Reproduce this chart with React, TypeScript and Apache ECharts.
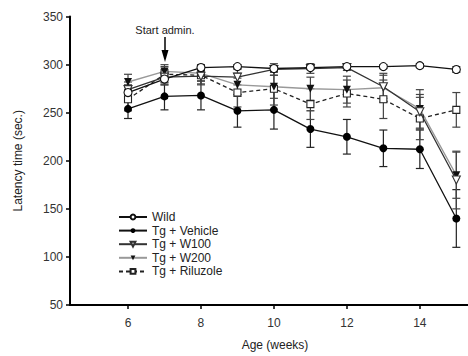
import React, { useEffect, useRef } from "react";
import * as echarts from "echarts";

const weeks = [6, 7, 8, 9, 10, 11, 12, 13, 14, 15];
const wild = [271, 285, 297, 298, 296, 297, 298, 298, 299, 295];
const wildErr = [8, 6, 3, 2, 3, 2, 2, 2, 2, 3];
const vehicle = [254, 267, 268, 252, 253, 233, 225, 213, 212, 140];
const vehicleErr = [10, 14, 15, 17, 20, 19, 18, 19, 20, 30];
const w100 = [274, 287, 288, 287, 295, 296, 297, 277, 251, 180];
const w100Err = [8, 8, 8, 8, 6, 5, 3, 12, 18, 30];
const w200 = [282, 293, 291, 279, 277, 275, 274, 276, 254, 185];
const w200Err = [8, 7, 8, 12, 12, 12, 14, 15, 20, 24];
const riluzole = [264, 290, 289, 271, 275, 259, 270, 264, 244, 253];
const riluzoleErr = [12, 8, 10, 15, 17, 16, 14, 20, 22, 18];

const xTicks = [6, 8, 10, 12, 14];
const seriesNames = ["Wild", "Tg + Vehicle", "Tg + W100", "Tg + W200", "Tg + Riluzole"];

function pairs(vals: number[]) {
  return weeks.map((w, i) => [w, vals[i]]);
}
function errData(vals: number[], errs: number[]) {
  return weeks.map((w, i) => [w, vals[i] - errs[i], vals[i] + errs[i]]);
}

function errSeries(vals: number[], errs: number[], color: string) {
  return {
    type: "custom",
    silent: true,
    z: 1,
    data: errData(vals, errs),
    renderItem: (params: any, api: any) => {
      const x = api.value(0);
      const lo = api.coord([x, api.value(1)]);
      const hi = api.coord([x, api.value(2)]);
      const w = 4;
      const st = { stroke: color, lineWidth: 1.2 };
      return {
        type: "group",
        children: [
          { type: "line", shape: { x1: lo[0], y1: lo[1], x2: hi[0], y2: hi[1] }, style: st },
          { type: "line", shape: { x1: lo[0] - w, y1: lo[1], x2: lo[0] + w, y2: lo[1] }, style: st },
          { type: "line", shape: { x1: hi[0] - w, y1: hi[1], x2: hi[0] + w, y2: hi[1] }, style: st },
        ],
      };
    },
  };
}

export default function App() {
  const ref = useRef<HTMLDivElement>(null);
  useEffect(() => {
    if (!ref.current) return;
    const chart = echarts.init(ref.current, null, { renderer: "svg" });
    const font = "Arial, 'Liberation Sans', sans-serif";
    chart.setOption({
      animation: false,
      textStyle: { fontFamily: font },
      grid: { left: 70, right: 0, top: 16.6, bottom: 49 },
      xAxis: {
        type: "value",
        min: 4.41,
        max: 15.32,
        name: "Age (weeks)",
        nameLocation: "middle",
        nameGap: 34,
        nameTextStyle: { fontSize: 12, color: "#222", padding: [0, 0, 0, 12] },
        axisLine: { show: true, onZero: false, lineStyle: { color: "#000", width: 2 } },
        axisTick: { show: true, customValues: xTicks, length: 4, lineStyle: { color: "#000", width: 1.5 } },
        axisLabel: { customValues: xTicks, fontSize: 12, color: "#333", margin: 12 },
        splitLine: { show: false },
      },
      yAxis: {
        type: "value",
        min: 50,
        max: 350,
        interval: 50,
        name: "Latency time (sec.)",
        nameLocation: "middle",
        nameGap: 46,
        nameTextStyle: { fontSize: 12, color: "#222" },
        axisLine: { show: true, lineStyle: { color: "#000", width: 2 } },
        axisTick: { show: true, length: 4, lineStyle: { color: "#000", width: 1.5 } },
        axisLabel: { fontSize: 12, color: "#333", margin: 7 },
        splitLine: { show: false },
      },
      legend: {
        data: seriesNames,
        orient: "vertical",
        left: 113,
        top: 206,
        itemWidth: 28,
        itemHeight: 6,
        itemGap: 1.6,
        textStyle: { fontSize: 12, color: "#222" },
      },
      graphic: [
        {
          type: "text",
          x: 165,
          y: 30,
          style: { text: "Start admin.", fontSize: 11, fill: "#222", align: "center", verticalAlign: "middle", fontFamily: font },
        },
        { type: "line", shape: { x1: 165, y1: 37, x2: 165, y2: 52 }, style: { stroke: "#000", lineWidth: 1.5 } },
        { type: "polygon", shape: { points: [[161.5, 50], [168.5, 50], [165, 62]] }, style: { fill: "#000" } },
      ],
      series: [
        errSeries(wild, wildErr, "#333"),
        errSeries(vehicle, vehicleErr, "#222"),
        errSeries(w100, w100Err, "#444"),
        errSeries(w200, w200Err, "#444"),
        errSeries(riluzole, riluzoleErr, "#444"),
        {
          name: "Tg + Riluzole",
          type: "line",
          data: pairs(riluzole),
          symbol: "rect",
          symbolSize: 7,
          z: 3,
          lineStyle: { color: "#222", width: 1.3, type: [4, 3] },
          itemStyle: { color: "#fff", borderColor: "#222", borderWidth: 1.1 },
        },
        {
          name: "Tg + W200",
          type: "line",
          data: pairs(w200),
          symbol: "triangle",
          symbolRotate: 180,
          symbolSize: 8,
          z: 3,
          lineStyle: { color: "#999", width: 1.4 },
          itemStyle: { color: "#111", borderColor: "#111", borderWidth: 0 },
        },
        {
          name: "Tg + W100",
          type: "line",
          data: pairs(w100),
          symbol: "triangle",
          symbolRotate: 180,
          symbolSize: 8,
          z: 4,
          lineStyle: { color: "#333", width: 1.3 },
          itemStyle: { color: "#fff", borderColor: "#333", borderWidth: 1.1 },
        },
        {
          name: "Tg + Vehicle",
          type: "line",
          data: pairs(vehicle),
          symbol: "circle",
          symbolSize: 8,
          z: 4,
          lineStyle: { color: "#111", width: 1.3 },
          itemStyle: { color: "#000", borderColor: "#000", borderWidth: 0 },
        },
        {
          name: "Wild",
          type: "line",
          data: pairs(wild),
          symbol: "circle",
          symbolSize: 8,
          z: 5,
          lineStyle: { color: "#111", width: 1.3 },
          itemStyle: { color: "#fff", borderColor: "#111", borderWidth: 1.1 },
        },
      ],
    });
    return () => chart.dispose();
  }, []);
  return <div ref={ref} style={{ width: 468, height: 356, position: "absolute", left: 0, top: 0 }} />;
}
